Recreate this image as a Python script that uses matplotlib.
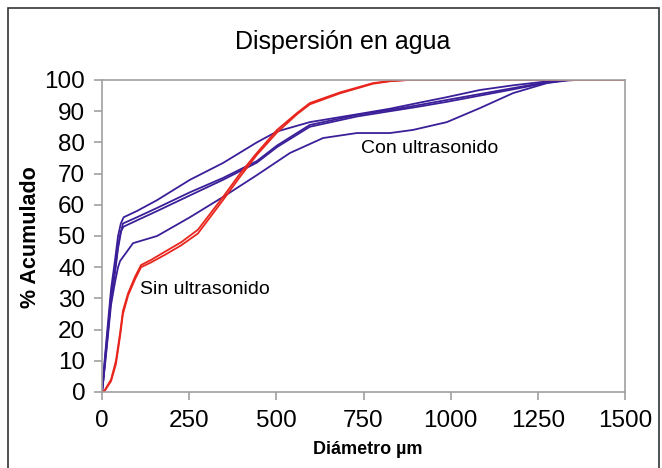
import numpy as np
import matplotlib.pyplot as plt
from matplotlib.patches import Rectangle

plt.rcParams['font.family'] = ['Liberation Sans', 'DejaVu Sans']

# Con ultrasonido (4 curvas)
b1_x = [0, 3, 9, 17, 26, 37, 46, 54, 62, 100, 158, 252, 347, 444, 502, 596, 731, 826, 900, 989, 1084, 1179, 1280, 1340]
b1_y = [0, 4, 12, 22, 33, 42, 50, 54, 56, 58, 61.5, 68, 73.4, 80, 83.5, 86.5, 89, 90.8, 92.5, 94.5, 96.8, 98.3, 99.6, 100]
b2_x = [0, 3, 9, 17, 26, 37, 46, 54, 60, 100, 158, 252, 347, 444, 502, 596, 731, 826, 900, 989, 1084, 1179, 1280, 1330]
b2_y = [0, 3, 10, 19, 30, 38, 46, 51, 54, 56, 59, 64, 68.6, 74, 79, 85.6, 88.8, 90.4, 91.8, 93.6, 95.5, 97.4, 99.4, 100]
b3_x = [0, 3, 9, 17, 26, 37, 46, 54, 62, 100, 158, 252, 347, 444, 502, 596, 731, 826, 900, 989, 1084, 1179, 1280, 1340]
b3_y = [0, 3, 11, 20, 31, 39, 47, 51.5, 53, 55, 58, 63, 68, 73.5, 78.5, 85, 88.3, 90, 91.3, 93, 95, 97, 99.2, 100]
b4_x = [0, 3, 9, 17, 26, 37, 46, 52, 89, 158, 252, 347, 444, 539, 634, 731, 826, 892, 989, 1084, 1179, 1276, 1330, 1360]
b4_y = [0, 3, 9, 18, 28, 35, 40, 42, 47.7, 50, 56, 62.5, 69.5, 76.6, 81.4, 83, 83, 84, 86.5, 91, 95.8, 99, 99.8, 100]

# Sin ultrasonido (2 curvas)
r1_x = [0, 8, 26, 40, 52, 60, 75, 95, 112, 140, 181, 227, 275, 347, 396, 444, 502, 559, 596, 682, 777, 826, 870, 1500]
r1_y = [0, 0.6, 4, 10, 19, 26, 31.7, 37, 40.7, 42.3, 45, 48, 52, 62.5, 70, 76.6, 84, 89.4, 92.6, 96, 99, 99.7, 100, 100]
r2_x = [0, 8, 26, 40, 52, 60, 75, 95, 112, 140, 181, 227, 275, 347, 396, 444, 502, 559, 596, 682, 777, 826, 880, 1500]
r2_y = [0, 0.4, 3.5, 9, 18, 25, 31, 36.2, 40, 41.5, 44, 47, 50.8, 61.5, 69, 76, 83.2, 89, 92.2, 95.7, 98.8, 99.6, 100, 100]

blue = '#3b1f99'
red = '#e8261e'
grey = '#a0a0a0'

fig = plt.figure(figsize=(6.62, 4.68), dpi=100)
ax = fig.add_axes([102 / 662, 1 - 392 / 468, 523 / 662, 312 / 468])

for xs, ys in [(b1_x, b1_y), (b2_x, b2_y), (b3_x, b3_y), (b4_x, b4_y)]:
    ax.plot(xs, ys, color=blue, lw=1.3)
for xs, ys in [(r1_x, r1_y), (r2_x, r2_y)]:
    ax.plot(xs, ys, color=red, lw=1.3)

ax.set_xlim(0, 1500)
ax.set_ylim(0, 100)
ax.set_xticks(np.arange(0, 1501, 250))
ax.set_yticks(np.arange(0, 101, 10))
for s in ax.spines.values():
    s.set_color(grey)
    s.set_linewidth(1.2)
ax.tick_params(direction='out', length=6, color=grey, width=1.2, labelsize=17.5, pad=6)
ax.tick_params(axis='x', pad=7)

ax.text(940, 78, 'Con ultrasonido', fontsize=14, ha='center', va='center')
ax.text(110, 33, 'Sin ultrasonido', fontsize=14, ha='left', va='center')

fig.text(343 / 662, 1 - 42 / 468, 'Dispersión en agua', fontsize=18, ha='center', va='center')
fig.text(368 / 662, 1 - 449 / 468, 'Diámetro µm', fontsize=13, fontweight='bold', ha='center', va='center')
fig.text(31 / 662, 1 - 237 / 468, '% Acumulado', fontsize=15.5, fontweight='bold', ha='center', va='center', rotation=90)

fig.patches.append(Rectangle((8 / 662, -0.05), 651 / 662, 1.05 - 8 / 468, transform=fig.transFigure,
                             fill=False, edgecolor='#333333', lw=1.2))

fig.savefig('out.png', dpi=100)
